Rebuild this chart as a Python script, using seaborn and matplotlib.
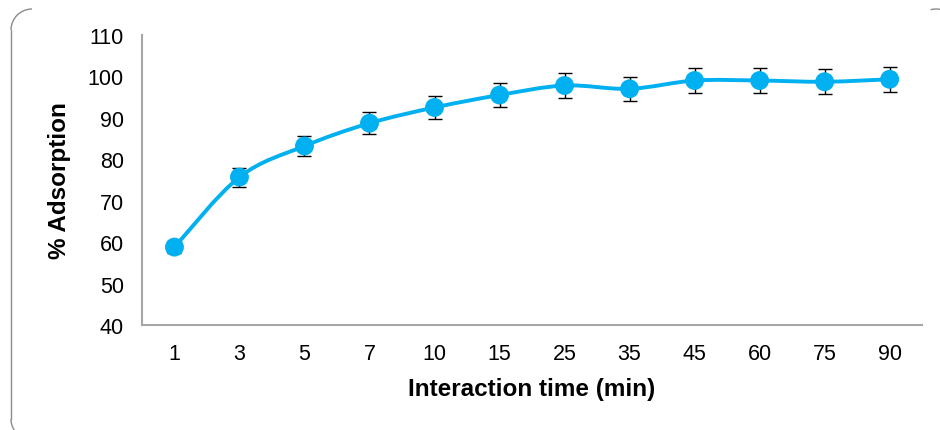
"""Adsorption (%) against interaction time, Excel-style smoothed line."""

import matplotlib
matplotlib.use("Agg")
import matplotlib.pyplot as plt
from matplotlib.path import Path
from matplotlib.patches import PathPatch, Arc
from matplotlib.lines import Line2D
from matplotlib.transforms import IdentityTransform
import seaborn as sns

# data
times = ["1", "3", "5", "7", "10", "15", "25", "35", "45", "60", "75", "90"]
adsorption = [58.8, 75.7, 83.2, 88.7, 92.5, 95.5, 97.8, 97.0, 99.0, 99.0, 98.7, 99.3]
errors = [1.5, 2.3, 2.5, 2.7, 2.8, 2.9, 3.0, 2.9, 3.0, 3.0, 3.0, 3.0]

BLUE = "#00B0F0"
GREY = "#A6A6A6"
FRAME = "#8C8C8C"
H = 431  # figure height in px, frame drawn in pixel coords


def smooth_path(xs, ys):
    # Catmull-Rom style curve through the points, as Bezier segments
    verts = [(xs[0], ys[0])]
    codes = [Path.MOVETO]
    n = len(xs)
    for i in range(n - 1):
        x0, y0 = (xs[i - 1], ys[i - 1]) if i > 0 else (xs[i], ys[i])
        x1, y1 = xs[i], ys[i]
        x2, y2 = xs[i + 1], ys[i + 1]
        x3, y3 = (xs[i + 2], ys[i + 2]) if i + 2 < n else (x2, y2)
        c1 = (x1 + (x2 - x0) / 6, y1 + (y2 - y0) / 6)
        c2 = (x2 - (x3 - x1) / 6, y2 - (y3 - y1) / 6)
        verts += [c1, c2, (x2, y2)]
        codes += [Path.CURVE4] * 3
    return Path(verts, codes)


def main():
    sns.set_theme(style="white")
    plt.rcParams["font.family"] = ["Liberation Sans", "DejaVu Sans"]
    plt.rcParams["text.color"] = "black"
    plt.rcParams["axes.labelcolor"] = "black"

    fig = plt.figure(figsize=(9.4, 4.31), dpi=100)
    ax = fig.add_axes([0.151, 0.2436, 0.830, 0.673])

    pos = list(range(len(times)))
    ax.add_patch(PathPatch(smooth_path(pos, adsorption), fill=False,
                           edgecolor=BLUE, lw=2.8, capstyle="round", zorder=2))
    ax.errorbar(pos, adsorption, yerr=errors, fmt="none", ecolor="black",
                elinewidth=1.0, capsize=5, capthick=1.0, zorder=3)
    sns.scatterplot(x=times, y=adsorption, ax=ax, color=BLUE, s=185,
                    edgecolor="none", zorder=4, legend=False)

    ax.set_xlim(-0.5, len(times) - 0.5)
    ax.set_ylim(40, 110)
    ax.set_yticks(range(40, 111, 10))
    ax.set_xticks(pos)
    ax.set_xticklabels(times)
    ax.tick_params(axis="both", length=0, labelsize=15.5, colors="black")
    ax.tick_params(axis="y", pad=13)
    ax.tick_params(axis="x", pad=13)

    for side in ("top", "right"):
        ax.spines[side].set_visible(False)
    for side in ("left", "bottom"):
        ax.spines[side].set_color(GREY)
        ax.spines[side].set_linewidth(1.5)

    ax.set_xlabel("Interaction time (min)", fontsize=17.5, fontweight="bold", labelpad=9)
    ax.set_ylabel("% Adsorption", fontsize=17.5, fontweight="bold", labelpad=12)

    # bits of the rounded chart-area frame that show in the reference
    ident = IdentityTransform()
    r = 21
    frame_parts = [
        Arc((11 + r, H - 10 - r), 2 * r, 2 * r, theta1=90, theta2=180),
        Arc((11 + r, H - 420), 2 * r, 2 * r, theta1=180, theta2=250),
        Arc((936, H - 10 - r), 2 * r, 2 * r, theta1=60, theta2=105),
    ]
    for arc in frame_parts:
        arc.set_transform(ident)
        arc.set_edgecolor(FRAME)
        arc.set_linewidth(1.0)
        fig.patches.append(arc)
    fig.lines.append(Line2D([11, 11], [H - 10 - r, H - 420], transform=ident,
                            color=FRAME, lw=1.0))

    fig.savefig("out.png", dpi=100)
    plt.close(fig)


if __name__ == "__main__":
    main()
